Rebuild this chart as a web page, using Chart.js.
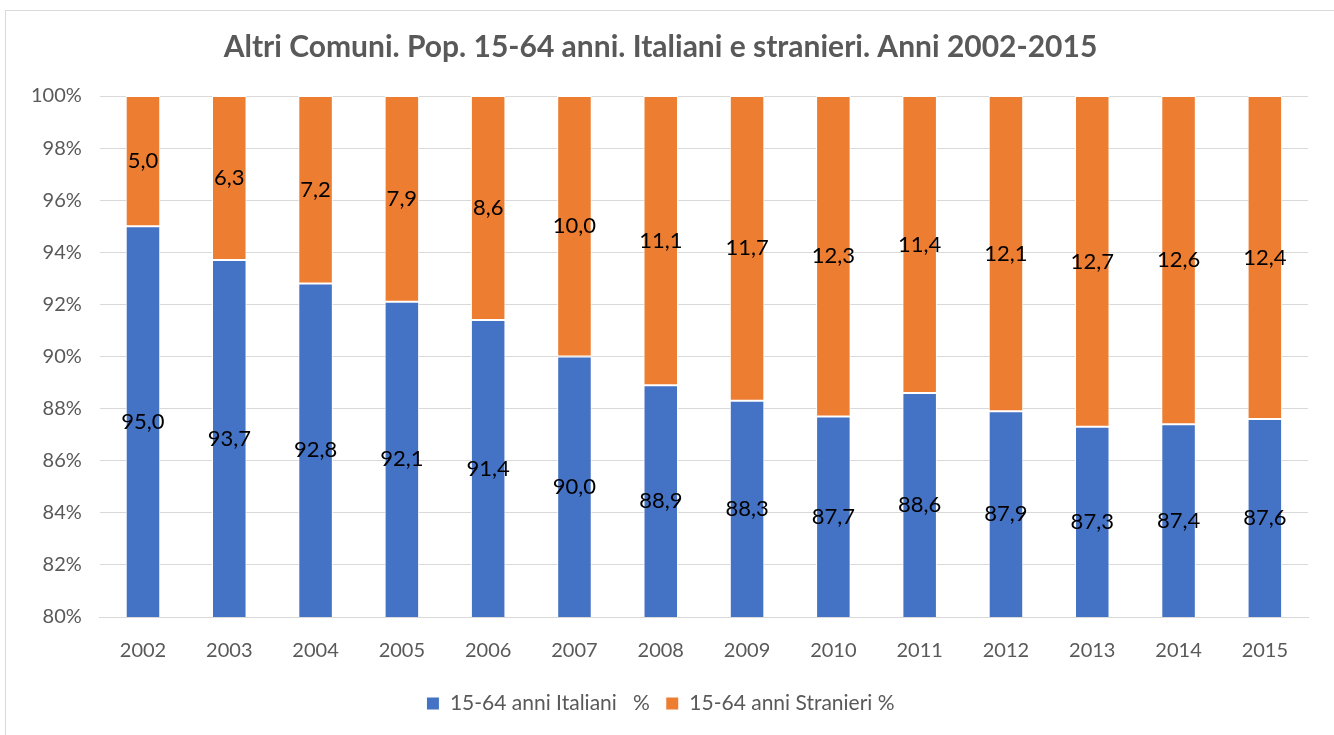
<!DOCTYPE html>
<html>
<head>
<meta charset="utf-8">
<script src="https://cdn.jsdelivr.net/npm/chart.js@4"></script>
<style>
  body { margin: 0; background: #fff; }
  .frame { position: absolute; left: 5px; top: 10px; width: 1340px; height: 740px; border: 1px solid #d9d9d9; }
  .chart-container { position: absolute; left: 0; top: 0; width: 1334px; height: 735px; }
</style>
</head>
<body>
<div class="frame"></div>
<div class="chart-container">
  <canvas id="popChart"></canvas>
</div>
<script>
const years = ['2002', '2003', '2004', '2005', '2006', '2007', '2008', '2009', '2010', '2011', '2012', '2013', '2014', '2015'];
const italiani = [95.0, 93.7, 92.8, 92.1, 91.4, 90.0, 88.9, 88.3, 87.7, 88.6, 87.9, 87.3, 87.4, 87.6];
const stranieri = [5.0, 6.3, 7.2, 7.9, 8.6, 10.0, 11.1, 11.7, 12.3, 11.4, 12.1, 12.7, 12.6, 12.4];

const textGray = '#595959';
const fontFamily = 'Lato, "Noto Sans", sans-serif';

// labels in the middle of the visible part of each bar
const barLabels = {
  id: 'barLabels',
  afterDatasetsDraw(chart) {
    const ctx = chart.ctx;
    const area = chart.chartArea;
    ctx.save();
    ctx.font = '22px ' + fontFamily;
    ctx.fillStyle = '#000';
    ctx.textAlign = 'center';
    ctx.textBaseline = 'middle';
    chart.data.datasets.forEach((ds, i) => {
      chart.getDatasetMeta(i).data.forEach((bar, j) => {
        const top = Math.max(bar.y, area.top);
        const bottom = Math.min(bar.base, area.bottom);
        ctx.fillText(ds.data[j].toFixed(1).replace('.', ','), bar.x, (top + bottom) / 2);
      });
    });
    ctx.restore();
  }
};

new Chart(document.getElementById('popChart'), {
  type: 'bar',
  data: {
    labels: years,
    datasets: [
      {
        label: '15-64 anni Italiani   %',
        data: italiani,
        backgroundColor: '#4472C4',
        borderColor: '#ffffff',
        borderWidth: 1,
        borderSkipped: false
      },
      {
        label: '15-64 anni Stranieri %',
        data: stranieri,
        backgroundColor: '#ED7D31',
        borderColor: '#ffffff',
        borderWidth: 1,
        borderSkipped: false
      }
    ]
  },
  options: {
    responsive: true,
    maintainAspectRatio: false,
    animation: false,
    datasets: {
      bar: { categoryPercentage: 1, barPercentage: 0.4 }
    },
    layout: { padding: { left: 13, right: 26, top: 21, bottom: 11 } },
    plugins: {
      title: {
        display: true,
        text: 'Altri Comuni. Pop. 15-64 anni. Italiani e stranieri. Anni 2002-2015',
        color: textGray,
        font: { family: fontFamily, size: 30, weight: 'bold' },
        padding: { top: 8, bottom: 31 }
      },
      legend: {
        position: 'bottom',
        labels: {
          color: textGray,
          font: { family: fontFamily, size: 21 },
          boxWidth: 13,
          boxHeight: 13,
          padding: 16
        }
      },
      tooltip: { enabled: false }
    },
    scales: {
      x: {
        stacked: true,
        grid: { display: false },
        border: { color: '#d9d9d9' },
        ticks: { color: textGray, font: { family: fontFamily, size: 20 }, padding: 14 }
      },
      y: {
        stacked: true,
        min: 80,
        max: 100,
        grid: { color: '#d9d9d9', drawTicks: false },
        border: { display: false },
        ticks: {
          stepSize: 2,
          color: textGray,
          font: { family: fontFamily, size: 20 },
          padding: 18,
          callback: v => v + '%'
        }
      }
    }
  },
  plugins: [barLabels]
});
</script>
</body>
</html>
